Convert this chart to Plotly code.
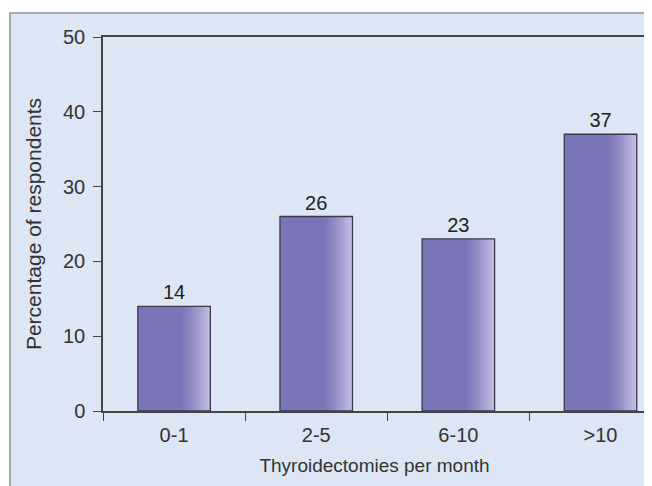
import plotly.graph_objects as go

categories = ["0-1", "2-5", "6-10", ">10"]
percentages = [14, 26, 23, 37]
y_ticks = [0, 10, 20, 30, 40, 50]

BAR_W = 0.51
BASE = "#7a75b8"
FONT = "Liberation Sans, Arial"
fig = go.Figure()

# base bar
fig.add_trace(go.Bar(x=categories, y=percentages, width=BAR_W, offset=-BAR_W / 2,
                     marker=dict(color=BASE, line=dict(width=0)),
                     hoverinfo="skip", showlegend=False))

# gradient strips on the right part of each bar
def mix(c1, c2, t):
    a = [int(c1[i:i + 2], 16) for i in (1, 3, 5)]
    b = [int(c2[i:i + 2], 16) for i in (1, 3, 5)]
    return "#%02x%02x%02x" % tuple(round(a[k] + (b[k] - a[k]) * t) for k in range(3))

N = 14
grad_start = 0.60  # fraction of the bar width where the gradient begins
for i in range(N):
    f0 = grad_start + (1 - grad_start) * i / N
    t = ((i + 1) / N) ** 1.3
    fig.add_trace(go.Bar(x=categories, y=percentages,
                         width=BAR_W * (1 - f0), offset=-BAR_W / 2 + BAR_W * f0,
                         marker=dict(color=mix(BASE, "#c4bde4", t), line=dict(width=0)),
                         hoverinfo="skip", showlegend=False))

# outline + value labels
fig.add_trace(go.Bar(x=categories, y=percentages, width=BAR_W, offset=-BAR_W / 2,
                     marker=dict(color="rgba(0,0,0,0)", line=dict(color="#3a3a4a", width=1.3)),
                     text=[str(v) for v in percentages], textposition="outside",
                     cliponaxis=False,
                     textfont=dict(family=FONT, size=20, color="#222222"),
                     showlegend=False))

# the page body adds an 8px offset, so margins are shifted by -8
fig.update_layout(
    width=652, height=486,
    barmode="overlay",
    paper_bgcolor="white",
    plot_bgcolor="white",
    margin=dict(l=95, r=14, t=29, b=83),
    font=dict(family=FONT, size=19, color="#333333"),
    shapes=[dict(type="rect", xref="paper", yref="paper",
                 x0=-0.1713, x1=1.05, y0=-0.25, y1=1.064,
                 fillcolor="#dce6f4", line=dict(color="#a4a8ad", width=2),
                 layer="below")],
)

fig.update_xaxes(
    type="category", range=[-0.5, 3.32],
    tickson="boundaries", ticks="outside", ticklen=8, tickcolor="#444444", tickwidth=1.3,
    ticklabelstandoff=5,
    showline=True, mirror=True, linecolor="#444444", linewidth=1.5,
    showgrid=False, zeroline=False,
    tickfont=dict(family=FONT, size=20, color="#333333"),
    title=dict(text="Thyroidectomies per month", font=dict(family=FONT, size=19, color="#333333"), standoff=14),
)
fig.update_yaxes(
    range=[0, 50], tickvals=y_ticks,
    ticks="outside", ticklen=8, tickcolor="#444444", tickwidth=1.3,
    ticklabelstandoff=4,
    showline=True, mirror=True, linecolor="#444444", linewidth=1.5,
    showgrid=False, zeroline=False,
    tickfont=dict(family=FONT, size=20, color="#333333"),
    title=dict(text="Percentage of respondents", font=dict(family=FONT, size=21, color="#333333"), standoff=16),
)

fig.write_html("out.html")
